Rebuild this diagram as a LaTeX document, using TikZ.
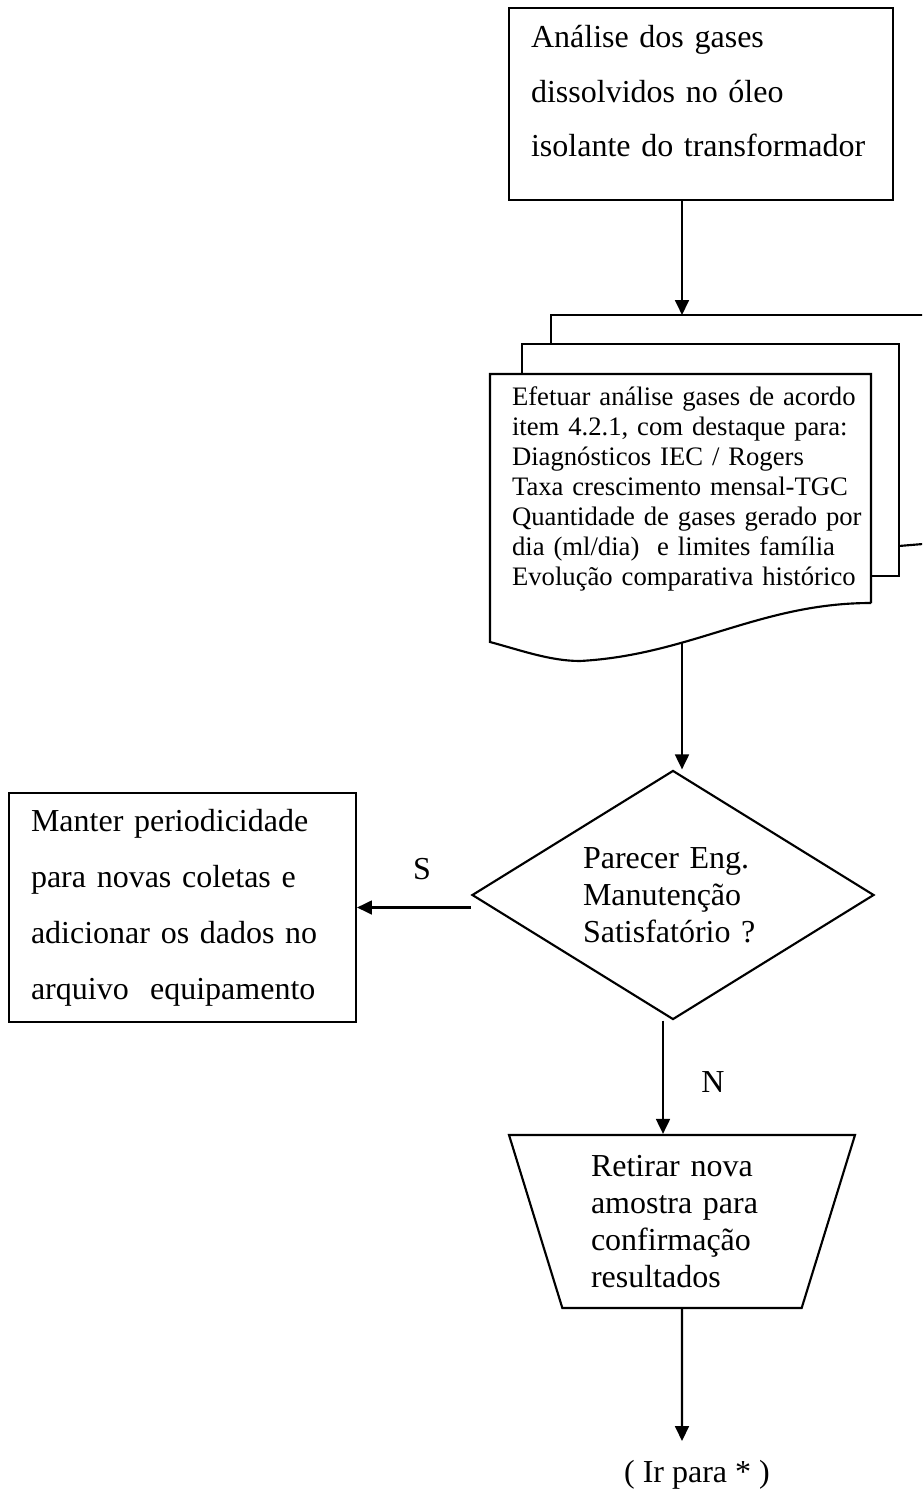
\documentclass[tikz,border=0pt]{standalone}
\usepackage{fontspec}
\setmainfont{Liberation Serif}
\usetikzlibrary{shapes.geometric,arrows.meta}
\tikzset{
  font={\fontsize{12pt}{13.9pt}\selectfont},
  box/.style={draw, rectangle, inner sep=0pt},
  decision/.style={draw, diamond, aspect=1.6, inner sep=0pt, align=left},
  manual/.style={draw, trapezium, trapezium stretches body, shape border rotate=180,
    trapezium left angle=68.1, trapezium right angle=68.1, inner sep=0pt, align=left},
  txt/.style={inner sep=0pt, align=left, anchor=base west},
  arrow/.style={-{Triangle[length=5.6pt,width=5.2pt]}},
  lbl/.style={inner sep=0pt}}

\begin{document}
\begin{tikzpicture}[x=0.375pt, y=-0.375pt, line width=0.8pt]
\useasboundingbox (0,0) rectangle (922,1490);
\clip (0,0) rectangle (922,1490);
% analise inicial
\node[box, minimum width=144pt, minimum height=72pt] (analise) at (701,104) {};
\node[txt, text width=135pt, font=\fontsize{12pt}{20.4pt}\selectfont] (analisetxt) at (530,48)
  {Análise dos gases\\dissolvidos no óleo\\isolante do transformador};
% multidocumento
\draw (551,344) |- (935,315) -- (935,540);
\draw (899,546) -- (935,543);
\draw (522,374) |- (899,344) |- (871,576);
\draw (871,603) |- (490,374) -- (490,642) .. controls (520,650) and (550,661) .. (580,661)
  .. controls (690,655) and (760,603) .. (871,603);
\node[txt, text width=136pt, font=\fontsize{10pt}{11.25pt}\selectfont] (docs) at (511,405)
  {Efetuar análise gases de acordo\\item 4.2.1, com destaque para:\\Diagnósticos IEC / Rogers\\
   Taxa crescimento mensal-TGC\\Quantidade de gases gerado por\\dia (ml/dia)~ e limites família\\
   Evolução comparativa histórico};
\coordinate (backtop) at (682,315);
\coordinate (docbot) at (682,642);
% decisao
\node[decision, minimum width=150.75pt, minimum height=93.4pt, text width=67.5pt] (parecer) at (673,895)
  {Parecer Eng.\\Manutenção\\Satisfatório ?};
\node[box, minimum width=130.1pt, minimum height=85.9pt, text width=113.6pt, align=left,
  font=\fontsize{12pt}{21pt}\selectfont] (manter) at (182.5,907.5)
  {Manter periodicidade\\para novas coletas e\\adicionar os dados no\\arquivo~ equipamento};
\node[manual, minimum width=129.75pt, minimum height=64.9pt, text width=68.25pt] (retirar) at (682,1221.5)
  {Retirar nova\\amostra para\\confirmação\\resultados};
\node[anchor=base, inner sep=0pt] (irpara) at (697,1482) {( Ir para * )};
\coordinate (nstart) at ([xshift=-3.75pt]parecer.south);
\coordinate (irtop) at (682,1441);
% ligacoes
\draw[arrow] (analise.south -| backtop) -- (backtop);
\draw[arrow] (docbot) -- (docbot |- parecer.north);
\draw[arrow] (parecer.west |- manter.east) -- (manter.east) node[lbl, pos=0.43, above=10pt] {S};
\draw[arrow] (nstart) -- (nstart |- retirar.north) node[lbl, pos=0.54, right=14pt] {N};
\draw[arrow] (retirar.south) -- (irtop);
\end{tikzpicture}
\end{document}
